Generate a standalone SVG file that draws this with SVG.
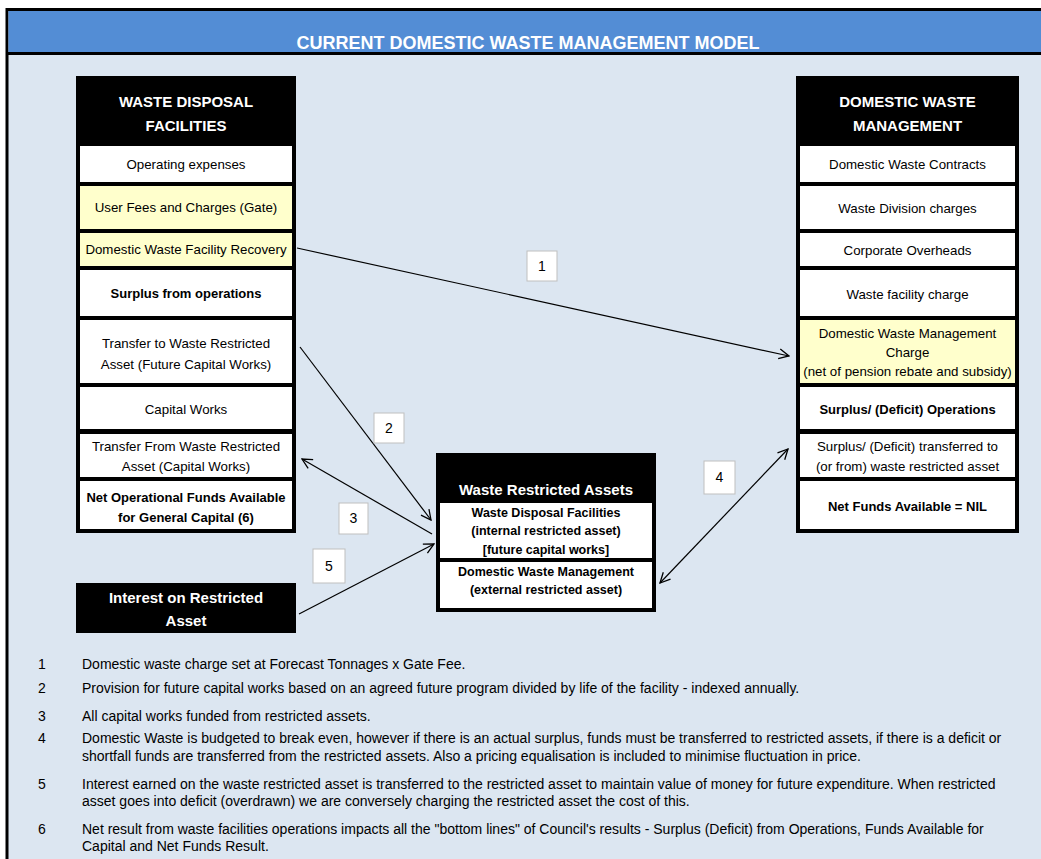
<svg xmlns="http://www.w3.org/2000/svg" width="1041" height="859" viewBox="0 0 1041 859">
<defs>
<marker id="ah" viewBox="0 0 12 12" refX="11" refY="6" markerWidth="12" markerHeight="12" markerUnits="userSpaceOnUse" orient="auto-start-reverse">
<path d="M1,1 L11,6 L1,11" fill="none" stroke="#000" stroke-width="1.3"/>
</marker>
<style>
text{font-family:"Liberation Sans",Arial,sans-serif;}
.hd{fill:#fff;font-weight:bold;font-size:15px;text-anchor:middle;}
.t{fill:#000;font-size:13.3px;text-anchor:middle;}
.b{fill:#000;font-size:13px;font-weight:bold;text-anchor:middle;}
.mb{fill:#000;font-size:12.5px;font-weight:bold;text-anchor:middle;}
.w{fill:#fff;}
.y{fill:#FFFFCC;}
.lbl rect{fill:#fff;stroke:#BFBFBF;stroke-width:1;}
.lbl text{font-size:14px;text-anchor:middle;fill:#000;}
.fn{font-size:14px;fill:#000;}
.conn line{stroke:#000;stroke-width:1.2;}
</style>
</defs>
<!-- frame -->
<rect x="7" y="9.5" width="1040" height="860" fill="#DCE6F1" stroke="#000" stroke-width="3"/>
<rect x="8.5" y="11" width="1035" height="41" fill="#538DD5"/>
<line x1="7" y1="53.5" x2="1041" y2="53.5" stroke="#000" stroke-width="3"/>
<text x="528" y="49" font-size="18" font-weight="bold" fill="#fff" text-anchor="middle">CURRENT DOMESTIC WASTE MANAGEMENT MODEL</text>

<g id="waste-disposal-facilities">
<rect x="76" y="76" width="220" height="457" fill="#000"/>
<text class="hd" x="186" y="107">WASTE DISPOSAL</text>
<text class="hd" x="186" y="131">FACILITIES</text>
<rect class="w" x="80" y="146" width="212" height="36"/>
<text class="t" x="186" y="169">Operating expenses</text>
<rect class="y" x="80" y="186" width="212" height="43"/>
<text class="t" x="186" y="212">User Fees and Charges (Gate)</text>
<rect class="y" x="80" y="233" width="212" height="33"/>
<text class="t" x="186" y="254">Domestic Waste Facility Recovery</text>
<rect class="w" x="80" y="270" width="212" height="46"/>
<text class="b" x="186" y="298">Surplus from operations</text>
<rect class="w" x="80" y="320" width="212" height="63"/>
<text class="t" x="186" y="348">Transfer to Waste Restricted</text>
<text class="t" x="186" y="369">Asset (Future Capital Works)</text>
<rect class="w" x="80" y="387" width="212" height="42"/>
<text class="t" x="186" y="414">Capital Works</text>
<rect class="w" x="80" y="434" width="212" height="43"/>
<text class="t" x="186" y="451">Transfer From Waste Restricted</text>
<text class="t" x="186" y="471">Asset (Capital Works)</text>
<rect class="w" x="80" y="481" width="212" height="48"/>
<text class="b" x="186" y="502">Net Operational Funds Available</text>
<text class="b" x="186" y="522">for General Capital (6)</text>
</g>

<g id="interest-on-restricted-asset">
<rect x="76" y="583" width="220" height="50" fill="#000"/>
<text class="hd" x="186" y="603" font-size="16.5">Interest on Restricted</text>
<text class="hd" x="186" y="626" font-size="16.5">Asset</text>
</g>

<g id="domestic-waste-management">
<rect x="796" y="76" width="223" height="457" fill="#000"/>
<text class="hd" x="907.5" y="107">DOMESTIC WASTE</text>
<text class="hd" x="907.5" y="131">MANAGEMENT</text>
<rect class="w" x="800" y="146" width="215" height="36"/>
<text class="t" x="907.5" y="169">Domestic Waste Contracts</text>
<rect class="w" x="800" y="186" width="215" height="43"/>
<text class="t" x="907.5" y="213">Waste Division charges</text>
<rect class="w" x="800" y="233" width="215" height="33"/>
<text class="t" x="907.5" y="255">Corporate Overheads</text>
<rect class="w" x="800" y="270" width="215" height="46"/>
<text class="t" x="907.5" y="299">Waste facility charge</text>
<rect class="y" x="800" y="320" width="215" height="63"/>
<text class="t" x="907.5" y="338">Domestic Waste Management</text>
<text class="t" x="907.5" y="357">Charge</text>
<text class="t" x="907.5" y="376" font-size="10.2">(net of pension rebate and subsidy)</text>
<rect class="w" x="800" y="387" width="215" height="42"/>
<text class="b" x="907.5" y="414">Surplus/ (Deficit) Operations</text>
<rect class="w" x="800" y="434" width="215" height="43"/>
<text class="t" x="907.5" y="451">Surplus/ (Deficit) transferred to</text>
<text class="t" x="907.5" y="471">(or from) waste restricted asset</text>
<rect class="w" x="800" y="481" width="215" height="48"/>
<text class="b" x="907.5" y="511">Net Funds Available = NIL</text>
</g>

<g id="waste-restricted-assets">
<rect x="436" y="453" width="220" height="159" fill="#000"/>
<text class="hd" x="546" y="495">Waste Restricted Assets</text>
<rect class="w" x="440" y="503" width="212" height="55"/>
<text class="mb" x="546" y="517">Waste Disposal Facilities</text>
<text class="mb" x="546" y="535">(internal restricted asset)</text>
<text class="mb" x="546" y="554">[future capital works]</text>
<rect class="w" x="440" y="562" width="212" height="46"/>
<text class="mb" x="546" y="576">Domestic Waste Management</text>
<text class="mb" x="546" y="594">(external restricted asset)</text>
</g>

<g id="connectors" class="conn">
<line x1="297" y1="248" x2="789" y2="356" marker-end="url(#ah)"/>
<line x1="300" y1="347" x2="431" y2="520" marker-end="url(#ah)"/>
<line x1="432" y1="534" x2="302" y2="459" marker-end="url(#ah)"/>
<line x1="299" y1="614" x2="434" y2="544" marker-end="url(#ah)"/>
<line x1="660" y1="583" x2="788" y2="449" marker-start="url(#ah)" marker-end="url(#ah)"/>
</g>

<g id="labels">
<g id="label-1" class="lbl"><rect x="527" y="251" width="30" height="30"/><text x="542" y="271">1</text></g>
<g id="label-2" class="lbl"><rect x="374" y="413" width="30" height="30"/><text x="389" y="433">2</text></g>
<g id="label-3" class="lbl"><rect x="339" y="503" width="29" height="31"/><text x="353.5" y="523">3</text></g>
<g id="label-4" class="lbl"><rect x="704" y="461" width="31" height="33"/><text x="719.5" y="482">4</text></g>
<g id="label-5" class="lbl"><rect x="313" y="549" width="32" height="34"/><text x="329" y="571">5</text></g>
</g>

<g id="footnotes" class="fn">
<text x="38" y="669">1</text><text x="82" y="669">Domestic waste charge set at Forecast Tonnages x Gate Fee.</text>
<text x="38" y="693">2</text><text x="82" y="693">Provision for future capital works based on an agreed future program divided by life of the facility - indexed annually.</text>
<text x="38" y="721">3</text><text x="82" y="721">All capital works funded from restricted assets.</text>
<text x="38" y="743">4</text><text x="82" y="743">Domestic Waste is budgeted to break even, however if there is an actual surplus, funds must be transferred to restricted assets, if there is a deficit or</text>
<text x="82" y="761">shortfall funds are transferred from the restricted assets. Also a pricing equalisation is included to minimise fluctuation in price.</text>
<text x="38" y="789">5</text><text x="82" y="789">Interest earned on the waste restricted asset is transferred to the restricted asset to maintain value of money for future expenditure. When restricted</text>
<text x="82" y="806">asset goes into deficit (overdrawn) we are conversely charging the restricted asset the cost of this.</text>
<text x="38" y="834">6</text><text x="82" y="834">Net result from waste facilities operations impacts all the "bottom lines" of Council's results - Surplus (Deficit) from Operations, Funds Available for</text>
<text x="82" y="851">Capital and Net Funds Result.</text>
</g>
</svg>
